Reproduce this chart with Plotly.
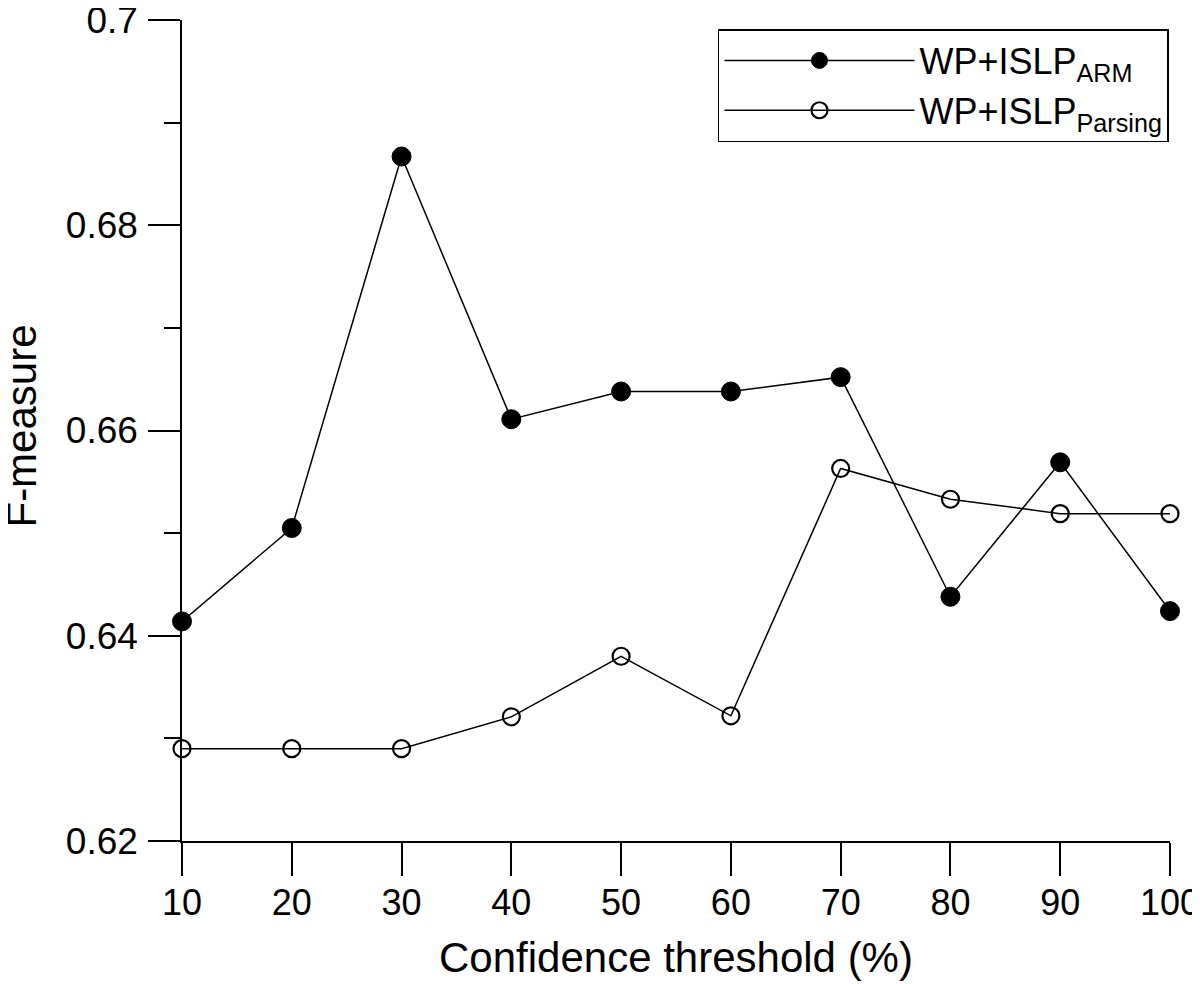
import plotly.graph_objects as go

thresholds = [10, 20, 30, 40, 50, 60, 70, 80, 90, 100]
arm_values = [0.6414, 0.6505, 0.6867, 0.6611, 0.6638, 0.6638, 0.6652, 0.6438, 0.6569, 0.6424]
parsing_values = [0.6290, 0.6290, 0.6290, 0.6321, 0.6380, 0.6322, 0.6563, 0.6533, 0.6519, 0.6519]
y_tick_vals = [0.62, 0.64, 0.66, 0.68, 0.70]
y_tick_text = ["0.62", "0.64", "0.66", "0.68", "0.7"]
x_tick_vals = thresholds

FONT = "Liberation Sans, Arial, Helvetica, sans-serif"

fig = go.Figure()
fig.add_trace(go.Scatter(
    x=thresholds, y=arm_values, mode="lines+markers",
    name="WP+ISLP<sub>ARM</sub>",
    line=dict(color="black", width=1.5),
    marker=dict(symbol="circle", size=19, color="black", line=dict(color="black", width=1)),
    cliponaxis=False,
))
fig.add_trace(go.Scatter(
    x=thresholds, y=parsing_values, mode="lines+markers",
    name="WP+ISLP<sub>Parsing</sub>",
    line=dict(color="black", width=1.5),
    marker=dict(symbol="circle-open", size=17, color="black", line=dict(color="black", width=2.2)),
    cliponaxis=False,
))

axis_common = dict(
    showline=True, linecolor="black", linewidth=1.5,
    ticks="outside", tickcolor="black", tickwidth=1.5,
    showgrid=False, zeroline=False,
    ticklabeloverflow="allow",
)

fig.update_xaxes(
    range=[10, 100], tickvals=x_tick_vals, ticklen=33,
    ticklabelstandoff=-4,
    tickfont=dict(family=FONT, size=36, color="black"),
    title=dict(text="Confidence threshold (%)", font=dict(family=FONT, size=42, color="black"), standoff=21),
    **axis_common,
)
fig.update_yaxes(
    range=[0.62, 0.70], tickvals=y_tick_vals, ticktext=y_tick_text, ticklen=32,
    ticklabelstandoff=3,
    tickfont=dict(family=FONT, size=37, color="black"),
    minor=dict(ticks="outside", ticklen=16, tickwidth=1.5, tickcolor="black", dtick=0.01, tick0=0.62),
    **axis_common,
)

fig.add_annotation(
    text="F-measure", textangle=-90,
    xref="paper", yref="paper", x=-0.162, y=0.506,
    xanchor="center", yanchor="middle", showarrow=False,
    font=dict(family=FONT, size=42, color="black"),
)

fig.update_layout(
    width=1192, height=976,
    margin=dict(l=174, r=30, t=12, b=143, autoexpand=False),
    paper_bgcolor="white", plot_bgcolor="white",
    legend=dict(
        x=0.5425, y=0.989, xanchor="left", yanchor="top",
        bordercolor="black", borderwidth=1.5, bgcolor="white",
        font=dict(family=FONT, size=36, color="black"),
        itemwidth=190, tracegroupgap=0,
    ),
    showlegend=True,
)

fig.write_html("out.html")
